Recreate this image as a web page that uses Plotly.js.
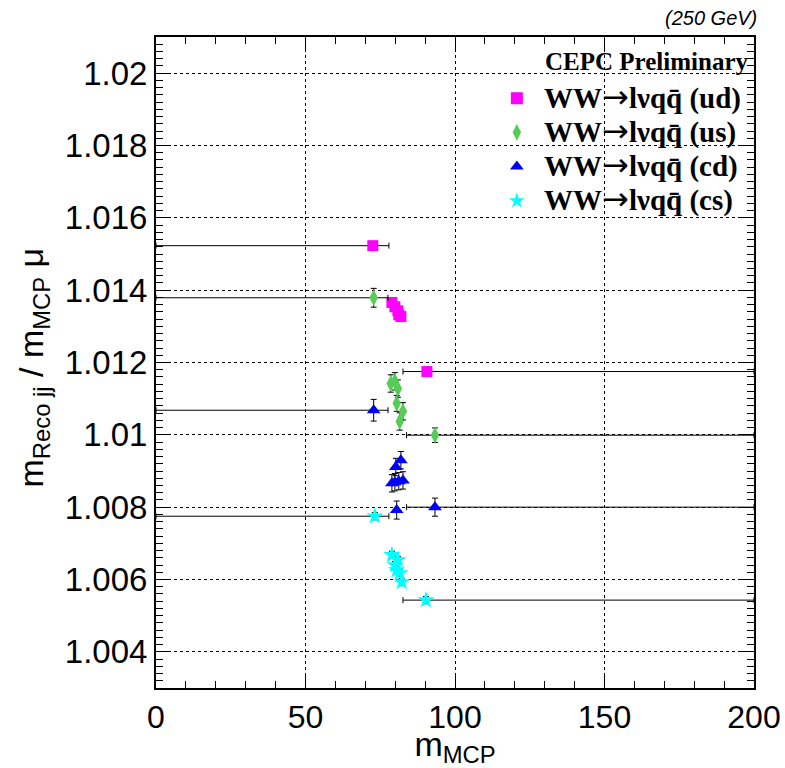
<!DOCTYPE html>
<html>
<head>
<meta charset="utf-8">
<script src="https://cdn.plot.ly/plotly-3.0.1.min.js"></script>
<style>html,body{margin:0;padding:0;background:#fff;}#chart{width:785px;height:768px;}</style>
</head>
<body>
<div id="chart"></div>
<script>
// ---- data ----
const arrow = "<span style='font-family:DejaVu Sans;font-weight:normal;font-size:32px'>\u2192</span>";
const channels = ['ud', 'us', 'cd', 'cs'];
const seriesNames = channels.map(c => "<span style='font-size:29px'>\u00A0WW" + arrow + 'l\u03BDqq\u0304 (' + c + ')</span>');

const udX      = [72.5, 78.9, 79.9, 80.9, 81.2, 81.9, 90.6];
const udY      = [1.01523, 1.01366, 1.01354, 1.01343, 1.01332, 1.01327, 1.01175];
const udXlo    = [72.5, 0, 0, 0, 0, 0, 8.0];
const udXhi    = [5.4, 0, 0, 0, 0, 0, 109.4];
const udYerr   = [0.0001, 0.0001, 0.0001, 0.0001, 0.0001, 0.0001, 0.0001];

const usX      = [72.8, 78.5, 79.9, 80.9, 80.5, 82.6, 81.5, 93.3];
const usY      = [1.01379, 1.01142, 1.01148, 1.01128, 1.01087, 1.01065, 1.01037, 1.00999];
const usXlo    = [72.8, 0, 0, 0, 0, 0, 0, 9.5];
const usXhi    = [4.8, 0, 0, 0, 0, 0, 0, 106.7];
const usYerr   = [0.00026, 0.00024, 0.00024, 0.00024, 0.00022, 0.00024, 0.00024, 0.0002];

const cdX      = [72.8, 81.9, 80.2, 78.9, 79.9, 81.2, 82.6, 80.5, 93.3];
const cdY      = [1.01068, 1.0093, 1.00911, 1.00866, 1.00869, 1.00872, 1.00874, 1.00792, 1.0080];
const cdXlo    = [72.8, 0, 0, 0, 0, 0, 0, 0, 9.5];
const cdXhi    = [4.8, 0, 0, 0, 0, 0, 0, 0, 106.7];
const cdYerr   = [0.0003, 0.00024, 0.00024, 0.00024, 0.00024, 0.00024, 0.00024, 0.00025, 0.00025];

const csX      = [73.2, 78.9, 80.9, 79.9, 80.5, 81.5, 82.2, 90.3];
const csY      = [1.00775, 1.00668, 1.00654, 1.0064, 1.00626, 1.00618, 1.00593, 1.00543];
const csXlo    = [73.2, 0, 0, 0, 0, 0, 0, 7.7];
const csXhi    = [4.7, 0, 0, 0, 0, 0, 0, 109.7];
const csYerr   = [0.0001, 0.0001, 0.0001, 0.0001, 0.0001, 0.0001, 0.0001, 0.0001];

const xTickVals = [0, 50, 100, 150, 200];
const xTickText = ['0', '50', '100', '150', '200'];
const yTickVals = [1.004, 1.006, 1.008, 1.01, 1.012, 1.014, 1.016, 1.018, 1.02];
const yTickText = ['1.004', '1.006', '1.008', '1.01', '1.012', '1.014', '1.016', '1.018', '1.02'];

// ---- build traces ----
function mk(name, x, y, xlo, xhi, yerr, color, symbol, size) {
  return {
    type: 'scatter', mode: 'markers', name: name, x: x, y: y,
    marker: {color: color, symbol: symbol, size: size, line: {width: 0}},
    error_x: {type: 'data', symmetric: false, array: xhi, arrayminus: xlo, color: '#000', thickness: 1, width: 3},
    error_y: {type: 'data', array: yerr, color: '#000', thickness: 1, width: 3},
    cliponaxis: true
  };
}
const data = [
  mk(seriesNames[0], udX, udY, udXlo, udXhi, udYerr, '#ff00ff', 'square', 11),
  mk(seriesNames[1], usX, usY, usXlo, usXhi, usYerr, '#55cc55', 'diamond-tall', 12),
  mk(seriesNames[2], cdX, cdY, cdXlo, cdXhi, cdYerr, '#0000ff', 'triangle-up', 12),
  mk(seriesNames[3], csX, csY, csXlo, csXhi, csYerr, '#00ffff', 'star', 13)
];

const axisCommon = {
  showline: true, linecolor: '#000', linewidth: 2, mirror: 'allticks',
  ticks: 'inside', ticklen: 13, tickcolor: '#000', tickwidth: 1,
  showgrid: true, gridcolor: '#000', griddash: 'dot', gridwidth: 1,
  zeroline: false
};

const layout = {
  width: 785, height: 768,
  margin: {l: 156, r: 31, t: 37, b: 80},
  paper_bgcolor: '#fff', plot_bgcolor: '#fff',
  showlegend: true,
  legend: {
    x: 0.57, y: 0.94, xanchor: 'left', yanchor: 'top',
    bgcolor: 'rgba(0,0,0,0)', borderwidth: 0,
    font: {family: 'Liberation Serif, Times New Roman, serif', size: 24, color: '#000', weight: 'bold'},
    itemsizing: 'constant', tracegroupgap: 0
  },
  xaxis: Object.assign({}, axisCommon, {
    range: [0, 200], tickmode: 'array', tickvals: xTickVals, ticktext: xTickText,
    tickfont: {family: 'Liberation Sans, Arial, sans-serif', size: 32, color: '#000'},
    minor: {dtick: 10, tick0: 0, ticks: 'inside', ticklen: 7, tickcolor: '#000', showgrid: false},
    title: {text: 'm<sub>MCP</sub>', font: {family: 'Liberation Sans, Arial, sans-serif', size: 34, color: '#000'}, standoff: 4}
  }),
  yaxis: Object.assign({}, axisCommon, {
    range: [1.003, 1.021], tickmode: 'array', tickvals: yTickVals, ticktext: yTickText,
    tickfont: {family: 'Liberation Sans, Arial, sans-serif', size: 33, color: '#000'},
    minor: {dtick: 0.0002, tick0: 1.004, ticks: 'inside', ticklen: 7, tickcolor: '#000', showgrid: false},
    ticklabelstandoff: 0
  }),
  annotations: [
    {xref: 'paper', yref: 'paper', x: 1.008, y: 1.029, xanchor: 'right', yanchor: 'middle', showarrow: false,
     text: '<i>(250 GeV)</i>', font: {family: 'Liberation Sans, Arial, sans-serif', size: 20, color: '#000'}},
    {xref: 'paper', yref: 'paper', x: 0.993, y: 0.962, xanchor: 'right', yanchor: 'middle', showarrow: false,
     text: '<b>CEPC Preliminary</b>', font: {family: 'Liberation Serif, Times New Roman, serif', size: 25, color: '#000'}},
    {xref: 'paper', yref: 'paper', x: -0.205, y: 0.493, xanchor: 'center', yanchor: 'middle', showarrow: false, textangle: -90,
     text: 'm<sub>Reco jj</sub> / m<sub>MCP</sub> \u03BC', font: {family: 'Liberation Sans, Arial, sans-serif', size: 34, color: '#000'}}
  ]
};

Plotly.newPlot('chart', data, layout, {displayModeBar: false, staticPlot: true});
</script>
</body>
</html>
